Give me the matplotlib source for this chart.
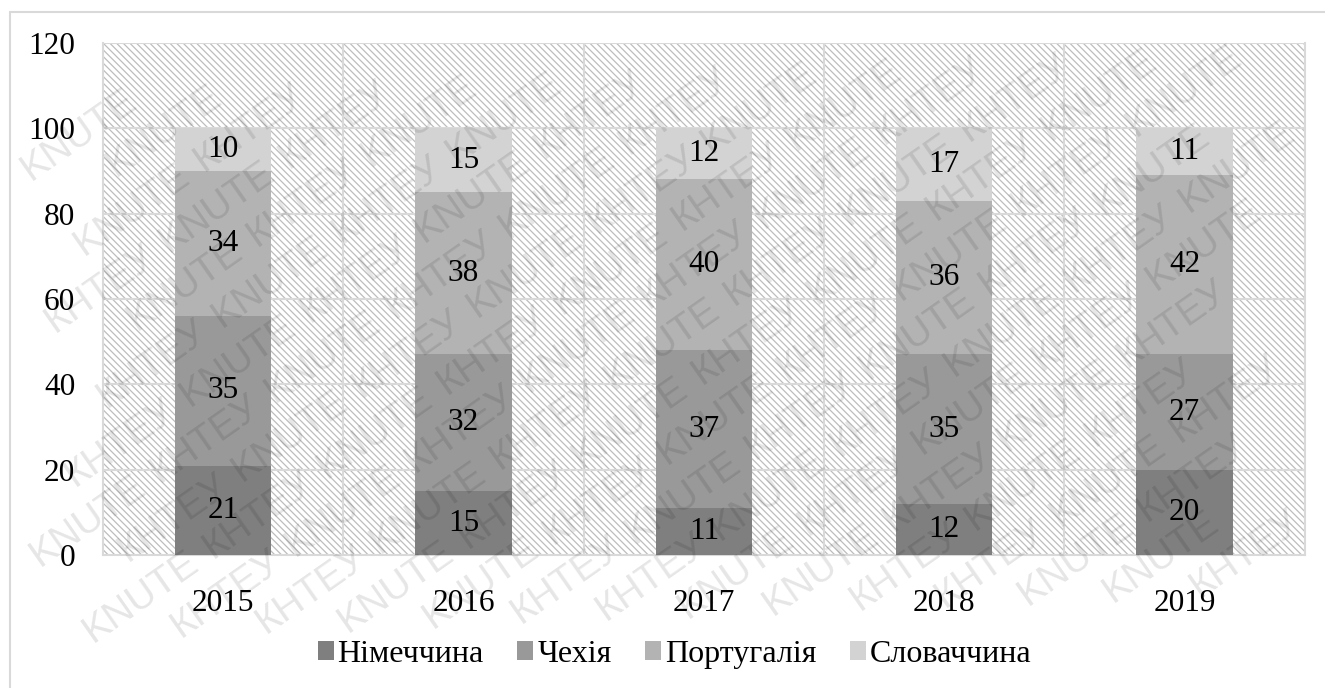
import numpy as np
import matplotlib
matplotlib.use("Agg")
import matplotlib.pyplot as plt
from matplotlib.patches import Rectangle

years = ["2015", "2016", "2017", "2018", "2019"]
germany = [21, 15, 11, 12, 20]
czechia = [35, 32, 37, 35, 27]
portugal = [34, 38, 40, 36, 42]
slovakia = [10, 15, 12, 17, 11]
series_names = ["Німеччина", "Чехія", "Португалія", "Словаччина"]
colors = ["#7f7f7f", "#999999", "#b3b3b3", "#d3d3d3"]
watermark_words = ["KNUTE", "КНТЕУ"]

plt.rcParams['font.family'] = ['Liberation Serif', 'DejaVu Serif']
plt.rcParams['hatch.linewidth'] = 0.9
plt.rcParams['hatch.color'] = '#bdbdbd'

W, H = 1325, 688
fig = plt.figure(figsize=(W / 100, H / 100), dpi=100)
ax = fig.add_axes([0.0777, 0.193, 0.907, 0.745])

# hatched plot background
bg = Rectangle((0, 0), 1, 1, transform=ax.transAxes, facecolor='white',
               edgecolor='#bdbdbd', hatch='\\\\\\\\\\', lw=0, zorder=0)
ax.add_patch(bg)

x = np.arange(len(years))
data = [germany, czechia, portugal, slovakia]
bottom = np.zeros(len(years))
for vals, name, c in zip(data, series_names, colors):
    vals = np.array(vals)
    ax.bar(x, vals, 0.4, bottom=bottom, color=c, label=name, zorder=3)
    for xi, b, v in zip(x, bottom, vals):
        ax.text(xi, b + v / 2, str(v), ha='center', va='center',
                fontsize=22.5, color='black', zorder=4)
    bottom = bottom + vals

ax.set_xlim(-0.5, len(years) - 0.5)
ax.set_ylim(0, 120)
ax.set_yticks(np.arange(0, 121, 20))
ax.set_xticks(x)
ax.set_xticklabels(years)
ax.tick_params(axis='both', length=0, labelsize=22.5)
ax.tick_params(axis='y', pad=20)
ax.tick_params(axis='x', pad=24)

# grid
for yv in np.arange(20, 121, 20):
    ax.axhline(yv, color='#d9d9d9', lw=1.5, zorder=1)
for xv in np.arange(0.5, len(years) - 0.5, 1):
    ax.axvline(xv, color='#d9d9d9', lw=1.5, zorder=1)
for s in ax.spines.values():
    s.set_color('#d9d9d9')
    s.set_linewidth(1.5)
ax.spines['top'].set_visible(False)

leg = fig.legend(loc='center', bbox_to_anchor=(0.509, 0.049), ncol=4,
                 frameon=False, fontsize=23, handlelength=0.5,
                 handleheight=0.5, handletextpad=0.12, columnspacing=1.05)

# outer frame (only left and top edges inside the picture)
fig.patches.append(Rectangle((0.0075, -0.05), 1.1, 1.033, transform=fig.transFigure,
                             fill=False, edgecolor='#d9d9d9', lw=1.5))

# watermark, diagonal rows of words, only words fully inside the picture
ang = np.deg2rad(35)
u = np.array([np.cos(ang), np.sin(ang)])
v = np.array([-np.sin(ang), np.cos(ang)])
step, row_gap = 143, 46
hx, hy = 68, 56
for k in range(-25, 26):
    for j in range(-15, 16):
        p = np.array([W / 2, H / 2]) + k * row_gap * v + (j + 0.5 * (k % 2)) * step * u
        if hx < p[0] < W - hx and hy < p[1] < H - hy:
            fig.text(p[0] / W, p[1] / H, watermark_words[(j + k) % 2], rotation=35,
                     rotation_mode='anchor', fontsize=28, family='Liberation Sans',
                     color='black', alpha=0.1, ha='center', va='center', zorder=10)

fig.savefig("out.png", dpi=100)
